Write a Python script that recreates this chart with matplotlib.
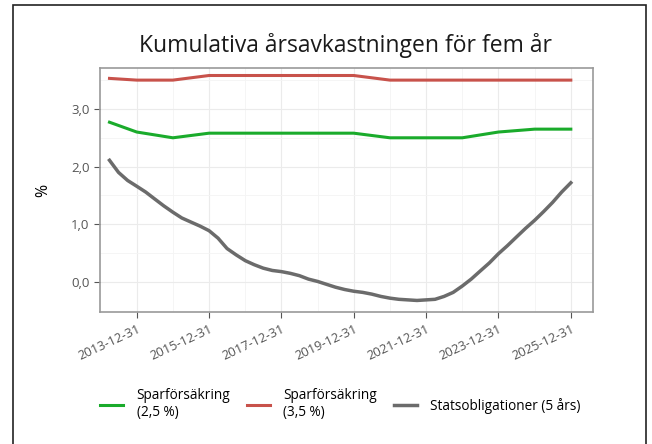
import numpy as np
import pandas as pd
import matplotlib
matplotlib.use("Agg")
import matplotlib.pyplot as plt
from matplotlib.patches import Rectangle

plt.rcParams["font.family"] = ["Open Sans", "DejaVu Sans"]

# data
stat_dates = pd.date_range("2013-03-31", "2025-12-31", freq="QE")
stat_values = [2.11, 1.90, 1.76, 1.66, 1.56, 1.44, 1.32, 1.21, 1.11, 1.04,
               0.97, 0.89, 0.76, 0.58, 0.47, 0.37, 0.30, 0.24, 0.20, 0.18,
               0.15, 0.11, 0.05, 0.01, -0.04, -0.09, -0.13, -0.16, -0.18, -0.21,
               -0.25, -0.28, -0.30, -0.31, -0.32, -0.31, -0.30, -0.25, -0.18, -0.07,
               0.05, 0.19, 0.33, 0.49, 0.63, 0.78, 0.93, 1.07, 1.22, 1.38,
               1.56, 1.72]
spar_dates = pd.to_datetime(["2013-03-31"] + [f"{y}-12-31" for y in range(2013, 2026)])
spar25 = [2.77, 2.60, 2.50, 2.58, 2.58, 2.58, 2.58, 2.58, 2.50, 2.50, 2.50, 2.60, 2.65, 2.65]
spar35 = [3.53, 3.50, 3.50, 3.58, 3.58, 3.58, 3.58, 3.58, 3.50, 3.50, 3.50, 3.50, 3.50, 3.50]
tick_dates = pd.to_datetime([f"{y}-12-31" for y in range(2013, 2026, 2)])
minor_dates = pd.to_datetime([f"{y}-12-31" for y in range(2014, 2026, 2)])
labels = ["Sparförsäkring\n(2,5 %)", "Sparförsäkring\n(3,5 %)", "Statsobligationer (5 års)"]

fig = plt.figure(figsize=(6.52, 4.44), dpi=100)
ax = fig.add_axes([100 / 652, 1 - 312 / 444, 493 / 652, 244 / 444])

ax.plot(spar_dates, spar25, color="#1aab2b", lw=2.2, label=labels[0])
ax.plot(spar_dates, spar35, color="#c8524b", lw=2.2, label=labels[1])
ax.plot(stat_dates, stat_values, color="#6b6b6b", lw=2.5, label=labels[2])

ax.set_xticks(tick_dates)
ax.set_xticklabels([d.strftime("%Y-%m-%d") for d in tick_dates], rotation=25,
                   ha="right", rotation_mode="anchor", color="#555555", fontsize=9.3)
ax.set_xticks(minor_dates, minor=True)
ax.set_yticks([0, 1, 2, 3])
ax.set_yticklabels(["0,0", "1,0", "2,0", "3,0"], color="#555555", fontsize=9.5)
ax.set_yticks([0.5, 1.5, 2.5, 3.5], minor=True)
ax.set_xlim(pd.Timestamp("2012-12-25"), pd.Timestamp("2026-08-12"))
ax.set_ylim(-0.52, 3.71)
ax.grid(which="major", color="#ebebeb", lw=0.8)
ax.grid(which="minor", color="#f4f4f4", lw=0.6)
ax.tick_params(which="major", length=4, color="#555555")
ax.tick_params(which="minor", length=0)
for s in ax.spines.values():
    s.set_color("#9a9a9a")
    s.set_linewidth(1.2)
ax.set_ylabel("%", fontsize=11.5, labelpad=14)

fig.text(0.53, 1 - 45 / 444, "Kumulativa årsavkastningen för fem år",
         ha="center", va="center", fontsize=16.5, color="#1a1a1a")

fig.legend(loc="center", bbox_to_anchor=(0.522, 1 - 404 / 444), ncol=3, frameon=False,
           fontsize=9.8, handlelength=1.7, columnspacing=1.2, handletextpad=1.0)

fig.add_artist(Rectangle((13 / 652, -0.05), 633 / 652, 1.05 - 5 / 444,
                         transform=fig.transFigure, fill=False, ec="#222222", lw=1.2))

fig.savefig("out.png", dpi=100)
